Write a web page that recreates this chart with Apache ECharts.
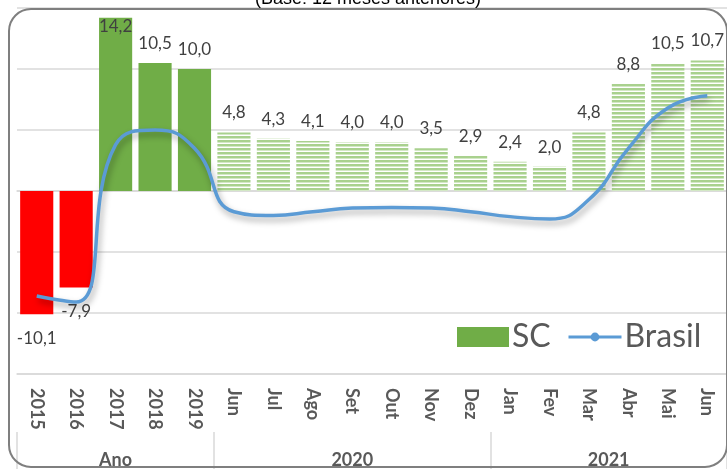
<!DOCTYPE html>
<html><head><meta charset="utf-8">
<script src="https://cdn.jsdelivr.net/npm/echarts@6/dist/echarts.min.js"></script>
<style>html,body{margin:0;padding:0;background:#fff}#c{width:727px;height:469px}</style>
</head><body><div id="c"></div>
<script>
const categories = ['2015','2016','2017','2018','2019','Jun','Jul','Ago','Set','Out','Nov','Dez','Jan','Fev','Mar','Abr','Mai','Jun'];
const scValues = [-10.1, -7.9, 14.2, 10.5, 10.0, 4.8, 4.3, 4.1, 4.0, 4.0, 3.5, 2.9, 2.4, 2.0, 4.8, 8.8, 10.5, 10.7];
const brasilValues = [-8.6, -9.1, 3.8, 5.0, 3.5, -1.7, -2.0, -1.7, -1.4, -1.35, -1.4, -1.7, -2.1, -2.3, -0.7, 3.5, 6.8, 7.8];
const groupLabels = ['Ano', '2020', '2021'];
const groupSizes = [5, 7, 6];
const titleText = '(Base: 12 meses anteriores)';

// stripe pattern
const pc = document.createElement('canvas');
pc.width = 4; pc.height = 4;
const px = pc.getContext('2d');
px.fillStyle = '#ffffff'; px.fillRect(0,0,4,4);
px.fillStyle = '#a9d18e'; px.fillRect(0,0,4,2);
px.fillStyle = '#d3e8c5'; px.fillRect(0,2,4,1);

const yearCount = groupSizes[0];
const barData = scValues.map((v, i) => {
  let color;
  if (v < 0) color = '#ff0000';
  else if (i < yearCount) color = '#70ad47';
  else color = { image: pc, repeat: 'repeat' };
  const item = { value: v, itemStyle: { color } };
  if (v > 14) item.label = { position: 'insideTop', distance: 0 };
  if (v < 0) item.label = { position: 'bottom', distance: 16 };
  return item;
});

// group positions
const groupTicks = [0];
const groupCenters = [];
let acc = 0;
groupSizes.forEach(s => { groupCenters.push(acc + s / 2); acc += s; groupTicks.push(acc); });

const fontMain = 'Lato, "Open Sans", sans-serif';
const legendText = { fontSize: 32, color: '#595959', fontFamily: fontMain, padding: [0,0,0,-2] };
const chart = echarts.init(document.getElementById('c'));
chart.setOption({
  animation: false,
  grid: { left: 17, right: 0, top: 8, bottom: 95, containLabel: false },
  legend: [
    {
      left: 452, top: 316, itemWidth: 52, itemHeight: 20,
      textStyle: legendText,
      data: [{ name: 'SC', icon: 'rect', itemStyle: { color: '#70ad47' } }]
    },
    {
      left: 562, top: 316, itemWidth: 53, itemHeight: 11,
      textStyle: legendText,
      lineStyle: { width: 3 },
      data: ['Brasil']
    }
  ],
  xAxis: [
    {
      type: 'category', data: categories, position: 'bottom',
      axisLine: { onZero: false, lineStyle: { color: '#d9d9d9', width: 1.5 } },
      axisTick: { interval: 0, length: 58, lineStyle: { color: '#d9d9d9', width: 1.5 } },
      axisLabel: { interval: 0, rotate: -90, margin: 14, fontSize: 18, fontWeight: 'bold', color: '#595959', fontFamily: fontMain }
    },
    {
      type: 'value', min: 0, max: categories.length, position: 'bottom', offset: 58,
      axisLine: { show: false, onZero: false },
      splitLine: { show: false },
      axisTick: { show: true, customValues: groupTicks, length: 37, lineStyle: { color: '#d9d9d9', width: 1.5 } },
      axisLabel: {
        customValues: groupCenters, margin: 19, fontSize: 18, fontWeight: 'bold', color: '#595959', fontFamily: fontMain,
        formatter: v => { const k = groupCenters.indexOf(v); return k >= 0 ? groupLabels[k] : ''; }
      }
    },
    {
      type: 'category', data: categories, position: 'bottom',
      axisLine: { onZero: true, lineStyle: { color: '#d9d9d9', width: 1.5 } },
      axisTick: { interval: 0, inside: true, length: 5, lineStyle: { color: '#d9d9d9', width: 1.5 } },
      axisLabel: { show: false }
    }
  ],
  yAxis: {
    type: 'value', min: -15, max: 15, interval: 5,
    axisLine: { show: false, onZero: false }, axisTick: { show: false }, axisLabel: { show: false },
    splitLine: { lineStyle: { color: '#d9d9d9', width: 1.5 } }
  },
  series: [
    {
      name: 'SC', type: 'bar', xAxisIndex: 0, barWidth: '84%', data: barData,
      itemStyle: { color: '#70ad47' },
      label: {
        show: true, position: 'top', distance: 11, fontSize: 17, color: '#404040', fontFamily: fontMain,
        formatter: p => p.value.toFixed(1).replace('.', ',')
      }
    },
    {
      name: 'Brasil', type: 'line', xAxisIndex: 0, data: brasilValues, smooth: 0.5,
      symbol: 'circle', symbolSize: 9, showSymbol: false,
      itemStyle: { color: '#5b9bd5' },
      lineStyle: { color: '#5b9bd5', width: 3.5, shadowColor: 'rgba(0,0,0,0.35)', shadowBlur: 6, shadowOffsetX: 2, shadowOffsetY: 4 },
      z: 5
    }
  ],
  graphic: [
    { type: 'rect', shape: { x: 9, y: 9, width: 718, height: 458, r: 22 }, style: { fill: 'none', stroke: '#7f7f7f', lineWidth: 2 }, z: 100, silent: true },
    { type: 'text', x: 368, y: 8, style: { text: titleText, fontSize: 18, fontFamily: '"Liberation Sans", Arial, sans-serif', fill: '#000', textAlign: 'center', textVerticalAlign: 'bottom' }, z: 100 }
  ]
});
</script></body></html>
